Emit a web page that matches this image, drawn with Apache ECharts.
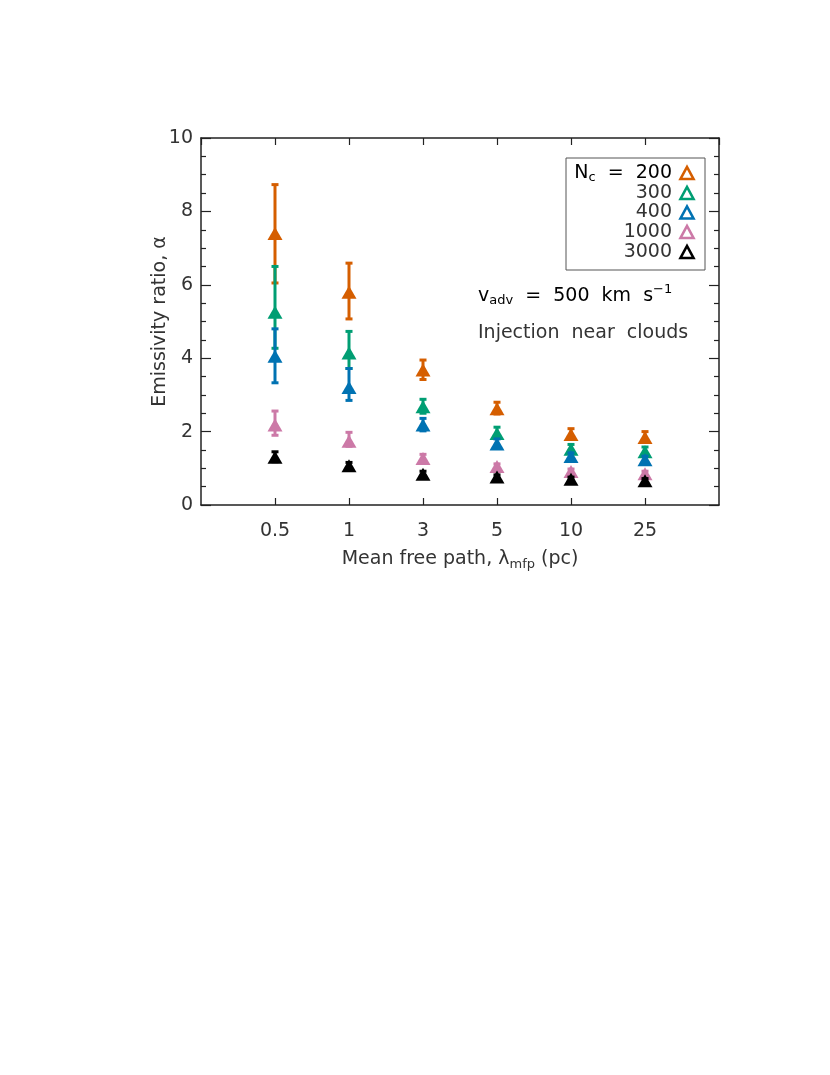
<!DOCTYPE html>
<html>
<head>
<meta charset="utf-8">
<script src="https://cdn.jsdelivr.net/npm/echarts@6/dist/echarts.min.js"></script>
<style>
  html, body { margin: 0; padding: 0; background: #fff; }
  #chart { width: 830px; height: 1075px; }
</style>
</head>
<body>
<div id="chart"></div>
<script>
// mean free path categories (pc)
const mfpLabels = ['0.5', '1', '3', '5', '10', '25']
const ncNames = ['200', '300', '400', '1000', '3000']
const ncColors = ['#d55e00', '#009e73', '#0072b2', '#cc79a7', '#000000']

// emissivity ratio, per N_c
const alpha200 = [7.40, 5.80, 3.68, 2.62, 1.92, 1.84]
const alpha300 = [5.25, 4.14, 2.68, 1.95, 1.52, 1.45]
const alpha400 = [4.05, 3.20, 2.18, 1.66, 1.32, 1.23]
const alpha1000 = [2.18, 1.74, 1.27, 1.05, 0.91, 0.85]
const alpha3000 = [1.30, 1.07, 0.84, 0.76, 0.70, 0.66]

// error bar ends
const low200 = [6.05, 5.07, 3.42, 2.48, 1.80, 1.72]
const high200 = [8.73, 6.59, 3.95, 2.80, 2.08, 2.00]
const low300 = [4.27, 3.72, 2.50, 1.85, 1.42, 1.36]
const high300 = [6.50, 4.73, 2.88, 2.12, 1.65, 1.58]
const low400 = [3.33, 2.85, 2.02, 1.56, 1.24, 1.15]
const high400 = [4.80, 3.72, 2.36, 1.80, 1.42, 1.33]
const low1000 = [1.90, 1.60, 1.18, 0.98, 0.85, 0.79]
const high1000 = [2.56, 1.98, 1.38, 1.12, 0.98, 0.92]
const low3000 = [1.18, 1.00, 0.78, 0.71, 0.65, 0.61]
const high3000 = [1.45, 1.16, 0.92, 0.82, 0.76, 0.72]

const yTicks = [0, 2, 4, 6, 8, 10]

const alphas = [alpha200, alpha300, alpha400, alpha1000, alpha3000]
const lows = [low200, low300, low400, low1000, low3000]
const highs = [high200, high300, high400, high1000, high3000]

const FONT = 'DejaVu Sans'
const TXT = '#333'
const AX = '#222'

function renderErr (params, api) {
  let x = api.value(0)
  let lo = api.coord([x, api.value(1)])
  let hi = api.coord([x, api.value(2)])
  let w = 3.5
  let st = { stroke: api.visual('color'), lineWidth: 3 }
  return {
    type: 'group',
    children: [
      { type: 'line', shape: { x1: lo[0], y1: lo[1], x2: hi[0], y2: hi[1] }, style: st },
      { type: 'line', shape: { x1: lo[0] - w, y1: lo[1], x2: lo[0] + w, y2: lo[1] }, style: st },
      { type: 'line', shape: { x1: hi[0] - w, y1: hi[1], x2: hi[0] + w, y2: hi[1] }, style: st }
    ]
  }
}

let series = []
ncNames.forEach((name, k) => {
  series.push({
    name: name + ' err',
    type: 'custom',
    renderItem: renderErr,
    itemStyle: { color: ncColors[k] },
    data: alphas[k].map((v, i) => [i + 1, lows[k][i], highs[k][i]]),
    z: 2 + k * 2
  })
  series.push({
    name: name,
    type: 'scatter',
    symbol: 'triangle',
    symbolSize: [15, 13],
    itemStyle: { color: ncColors[k], opacity: 1 },
    data: alphas[k].map((v, i) => [i + 1, v]),
    z: 3 + k * 2
  })
})

// legend rows (hollow triangles drawn next to the right-aligned labels)
const legendRowY = [173, 193, 212.5, 232, 252]
let legendIcons = ncNames.map((nm, k) => ({
  type: 'polygon',
  z: 10,
  shape: { points: [[680.5, legendRowY[k] + 6], [693.5, legendRowY[k] + 6], [687, legendRowY[k] - 6]] },
  style: { fill: 'none', stroke: ncColors[k], lineWidth: 2.6, lineJoin: 'miter' }
}))

const chart = echarts.init(document.getElementById('chart'))

const xBase = {
  type: 'value',
  min: 0,
  max: 7,
  interval: 1,
  splitLine: { show: false },
  axisLine: { show: true, onZero: false, lineStyle: { color: AX, width: 1.5 } },
  axisTick: { show: true, inside: true, length: 7, lineStyle: { color: AX, width: 1.2 } }
}
const yBase = {
  type: 'value',
  min: 0,
  max: 10,
  interval: 2,
  splitLine: { show: false },
  axisLine: { show: true, onZero: false, lineStyle: { color: AX, width: 1.5 } },
  axisTick: { show: true, inside: true, length: 10, lineStyle: { color: AX, width: 1.2 } },
  minorTick: { show: true, splitNumber: 4, length: 5, lineStyle: { color: AX, width: 1.2 } },
  minorSplitLine: { show: false }
}

chart.setOption({
  animation: false,
  backgroundColor: '#fff',
  grid: { left: 201, top: 138, width: 518, height: 367, containLabel: false },
  xAxis: [
    Object.assign({}, xBase, {
      position: 'bottom',
      name: 'Mean free path, λ{sub|mfp} (pc)',
      nameLocation: 'middle',
      nameGap: 43,
      nameMoveOverlap: false,
      nameTextStyle: {
        fontFamily: FONT, fontSize: 19, color: TXT,
        rich: {
          sub: { fontFamily: FONT, fontSize: 13, color: TXT, padding: [10, 0, 0, 0] }
        }
      },
      axisLabel: {
        show: true,
        margin: 17,
        fontFamily: FONT,
        fontSize: 19,
        color: TXT,
        showMinLabel: false,
        showMaxLabel: false,
        formatter: v => mfpLabels[v - 1] || ''
      }
    }),
    Object.assign({}, xBase, { position: 'top', axisLabel: { show: false } })
  ],
  yAxis: [
    Object.assign({}, yBase, {
      position: 'left',
      name: 'Emissivity ratio, α',
      nameLocation: 'middle',
      nameRotate: 90,
      nameGap: 31,
      nameMoveOverlap: false,
      nameTextStyle: { fontFamily: FONT, fontSize: 19, color: TXT },
      axisLabel: {
        show: true, margin: 8, fontFamily: FONT, fontSize: 19, color: TXT,
        formatter: v => yTicks.indexOf(v) >= 0 ? String(v) : ''
      }
    }),
    Object.assign({}, yBase, { position: 'right', axisLabel: { show: false } })
  ],
  graphic: [
    {
      type: 'rect',
      shape: { x: 566, y: 158, width: 139, height: 112 },
      style: { fill: 'none', stroke: '#555', lineWidth: 1 },
      z: 10
    },
    {
      type: 'text', x: 672, y: 173, z: 10,
      style: {
        text: '{n|N}{s|c}{n|  =  ' + ncNames[0] + '}',
        align: 'right', verticalAlign: 'middle',
        rich: {
          n: { fontFamily: FONT, fontSize: 19, color: TXT },
          s: { fontFamily: FONT, fontSize: 13, color: TXT, padding: [10, 0, 0, 0] }
        }
      }
    },
    ...ncNames.slice(1).map((nm, i) => ({
      type: 'text', x: 672, y: legendRowY[i + 1], z: 10,
      style: { text: nm, align: 'right', verticalAlign: 'middle', fontFamily: FONT, fontSize: 19, fill: TXT }
    })),
    ...legendIcons,
    {
      type: 'text', x: 478, y: 296, z: 10,
      style: {
        text: '{n|v}{s|adv}{n|  =  500  km  s}{p|−1}',
        verticalAlign: 'middle',
        rich: {
          n: { fontFamily: FONT, fontSize: 19, color: TXT },
          s: { fontFamily: FONT, fontSize: 13, color: TXT, padding: [10, 0, 0, 0] },
          p: { fontFamily: FONT, fontSize: 13, color: TXT, padding: [0, 0, 12, 0] }
        }
      }
    },
    {
      type: 'text', x: 478, y: 333, z: 10,
      style: { text: 'Injection  near  clouds', verticalAlign: 'middle', fontFamily: FONT, fontSize: 19, fill: TXT }
    }
  ],
  series: series
})
</script>
</body>
</html>
